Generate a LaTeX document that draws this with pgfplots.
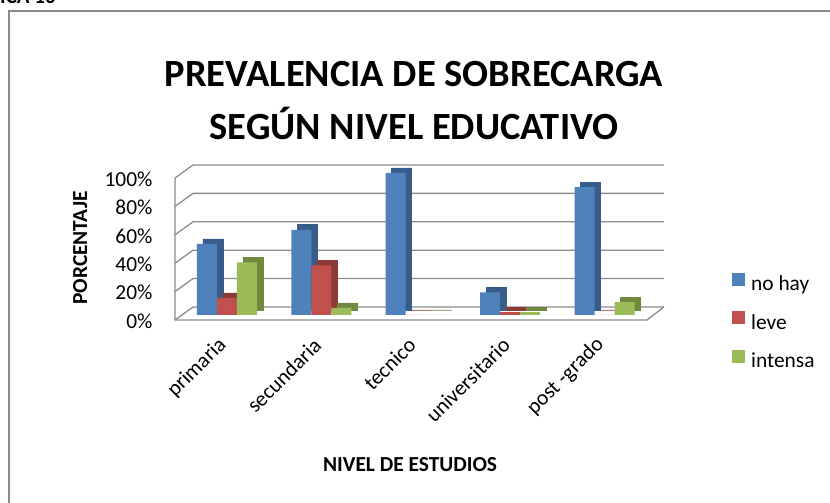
\documentclass[border=0pt]{standalone}
\usepackage{pgfplots}
\usepackage{pgfplotstable}
\pgfplotsset{compat=1.18}
\usepackage{fontspec}
\setmainfont{Carlito}
\definecolor{cblue}{HTML}{4F81BD}
\definecolor{cblueD}{HTML}{385D8A}
\definecolor{cred}{HTML}{C0504D}
\definecolor{credD}{HTML}{8C3A37}
\definecolor{cgreen}{HTML}{9BBB59}
\definecolor{cgreenD}{HTML}{71893F}
\definecolor{gridc}{HTML}{8C8C8C}
\definecolor{framec}{HTML}{8C8C8C}

\pgfplotstableread{
x nohay leve intensa
0 50 12 37
1 60 35 5
2 100 0 0
3 16 2 2
4 90 0 9
}\datatable

\begin{document}
\begin{tikzpicture}[x=1pt,y=1pt]
\useasboundingbox (0,0) rectangle (830,503);
\draw[framec, line width=1.2pt] (9,492) rectangle (870,-40);
\node[anchor=base west, font=\bfseries\fontsize{21}{25}\selectfont, inner sep=0] at (0,499) {ICA 10};
\node[anchor=base, inner sep=0, font=\bfseries\fontsize{38.5}{46}\selectfont] at (414,416) {PREVALENCIA DE SOBRECARGA};
\node[anchor=base, inner sep=0, font=\bfseries\fontsize{38.5}{46}\selectfont] at (414,363) {SEGÚN NIVEL EDUCATIVO};
\begin{axis}[
  at={(175pt,183pt)}, anchor=south west,
  scale only axis, width=472pt, height=142pt,
  xmin=-0.55, xmax=4.45, ymin=0, ymax=100,
  clip=false,
  axis line style={draw=none}, major tick length=0pt,
  /pgf/number format/assume math mode=true,
  xtick={0,1,2,3,4},
  xticklabels={primaria,secundaria,tecnico,universitario,post -grado},
  ytick={0,20,40,60,80,100},
  yticklabels={0\%,20\%,40\%,60\%,80\%,100\%},
  tick label style={font=\fontsize{21.4}{25}\selectfont},
  yticklabel style={anchor=east, xshift=-19pt, yshift=-1pt},
  xticklabel style={anchor=east, yshift=-21pt, xshift=-3pt, rotate=45, inner sep=1pt},
  xlabel={NIVEL DE ESTUDIOS},
  xlabel style={at={(axis description cs:0.498,-1.021)}, anchor=center, font=\bfseries\fontsize{21.4}{25}\selectfont},
  ylabel={PORCENTAJE},
  ylabel style={at={(axis description cs:-0.201,0.507)}, anchor=center, font=\bfseries\fontsize{21.4}{25}\selectfont},
  legend style={at={(axis description cs:1.18,-0.014)}, anchor=west, draw=none, fill=none,
    font=\fontsize{21.4}{25}\selectfont, row sep=17pt, inner sep=0pt,
    /tikz/every odd column/.append style={column sep=4pt}},
  legend cell align=left,
  legend image code/.code={\fill[#1] (0pt,-6.5pt) rectangle (13pt,6.5pt);},
]
% back wall grid
\pgfplotsinvokeforeach{0,20,40,60,80,100}{
  \draw[gridc, line width=1.3pt] (axis cs:-0.55,#1) -- ([shift={(18pt,13pt)}]axis cs:-0.55,#1) -- ([shift={(17pt,13pt)}]axis cs:4.45,#1);
}
\draw[gridc, line width=1.3pt] (axis cs:-0.55,100) -- (axis cs:-0.55,0) -- (axis cs:4.45,0) -- ([shift={(17pt,13pt)}]axis cs:4.45,0);

% no hay
\addplot[ybar, bar width=20pt, bar shift=-20pt, fill=cblueD, draw=cblueD, line width=0.6pt, xshift=6pt, yshift=10pt, forget plot] table[x=x,y=nohay]{\datatable};
\addplot[ybar, bar width=20pt, bar shift=-20pt, fill=cblue, draw=none, yshift=5pt] table[x=x,y=nohay]{\datatable};
\addlegendentry{no hay}
% leve
\addplot[ybar, bar width=20pt, bar shift=0pt, fill=credD, draw=credD, line width=0.6pt, xshift=6pt, yshift=10pt, forget plot] table[x=x,y=leve]{\datatable};
\addplot[ybar, bar width=20pt, bar shift=0pt, fill=cred, draw=none, yshift=5pt] table[x=x,y=leve]{\datatable};
\addlegendentry{leve}
% intensa
\addplot[ybar, bar width=20pt, bar shift=20pt, fill=cgreenD, draw=cgreenD, line width=0.6pt, xshift=6pt, yshift=10pt, forget plot] table[x=x,y=intensa]{\datatable};
\addplot[ybar, bar width=20pt, bar shift=20pt, fill=cgreen, draw=none, yshift=5pt] table[x=x,y=intensa]{\datatable};
\addlegendentry{intensa}
\end{axis}
\end{tikzpicture}
\end{document}
